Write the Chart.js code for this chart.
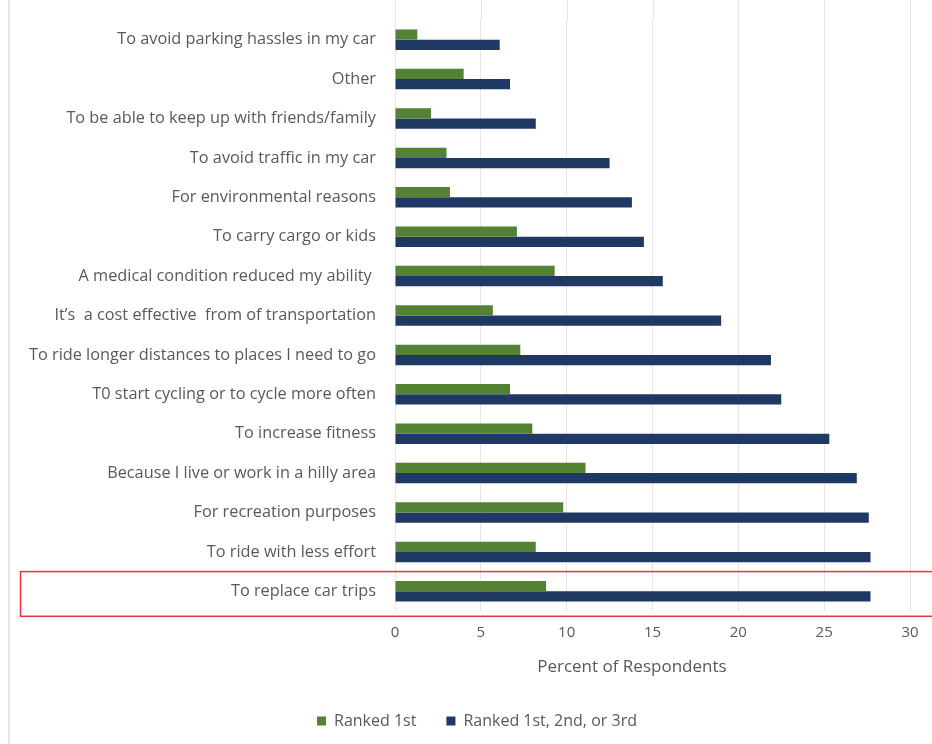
<!DOCTYPE html>
<html>
<head>
<meta charset="utf-8">
<script src="https://cdn.jsdelivr.net/npm/chart.js@4/dist/chart.umd.min.js"></script>
<style>
html,body{margin:0;padding:0;background:#fff;}
#wrap{width:932px;height:744px;position:relative;}
</style>
</head>
<body>
<div id="wrap"><canvas id="c" width="932" height="744"></canvas></div>
<script>
const categories = [
  "To avoid parking hassles in my car",
  "Other",
  "To be able to keep up with friends/family",
  "To avoid traffic in my car",
  "For environmental reasons",
  "To carry cargo or kids",
  "A medical condition reduced my ability ",
  "It\u2019s  a cost effective  from of transportation",
  "To ride longer distances to places I need to go",
  "T0 start cycling or to cycle more often",
  "To increase fitness",
  "Because I live or work in a hilly area",
  "For recreation purposes",
  "To ride with less effort",
  "To replace car trips"
];
const ranked1st = [1.3, 4.0, 2.1, 3.0, 3.2, 7.1, 9.3, 5.7, 7.3, 6.7, 8.0, 11.1, 9.8, 8.2, 8.8];
const ranked123 = [6.1, 6.7, 8.2, 12.5, 13.8, 14.5, 15.6, 19.0, 21.9, 22.5, 25.3, 26.9, 27.6, 27.7, 27.7];
const xTicks = [0, 5, 10, 15, 20, 25, 30];
const seriesNames = ["Ranked 1st", "Ranked 1st, 2nd, or 3rd"];
const xTitle = "Percent of Respondents";
const highlighted = "To replace car trips";

const FONT = "'Open Sans', Lato, sans-serif";
const TXT = "#595959";

const decor = {
  id: 'decor',
  afterLayout(chart) {
    if (chart.legend) { chart.legend.left += 22; chart.legend.right += 22; }
  },
  beforeDatasetsDraw(chart) {
    const ctx = chart.ctx, x = chart.scales.x, a = chart.chartArea;
    ctx.save();
    ctx.strokeStyle = '#e6e6e6';
    ctx.lineWidth = 1;
    xTicks.forEach(v => {
      const px = Math.round(x.getPixelForValue(v)) + 0.5;
      ctx.beginPath(); ctx.moveTo(px, 0); ctx.lineTo(px, a.top); ctx.stroke();
    });
    ctx.restore();
  },
  afterDraw(chart) {
    const ctx = chart.ctx, y = chart.scales.y, x = chart.scales.x, a = chart.chartArea;
    ctx.save();
    ctx.fillStyle = TXT;
    ctx.font = "17px " + FONT;
    ctx.textAlign = 'center';
    ctx.textBaseline = 'middle';
    ctx.fillText(xTitle, x.getPixelForValue(13.8), a.bottom + 56);
    ctx.strokeStyle = '#e6e6e6';
    ctx.lineWidth = 2;
    ctx.beginPath(); ctx.moveTo(9, 0); ctx.lineTo(9, chart.height); ctx.stroke();
    const idx = categories.indexOf(highlighted);
    const band = (y.getPixelForValue(1) - y.getPixelForValue(0));
    const cy = y.getPixelForValue(idx);
    ctx.strokeStyle = '#e8343a';
    ctx.lineWidth = 1.5;
    ctx.strokeRect(20.5, cy - band / 2, 940, band / 2 + 25);
    ctx.restore();
  }
};

new Chart(document.getElementById('c'), {
  type: 'bar',
  data: {
    labels: categories,
    datasets: [
      { label: seriesNames[0], data: ranked1st, backgroundColor: '#548235', borderWidth: 0 },
      { label: seriesNames[1], data: ranked123, backgroundColor: '#203864', borderWidth: 0 }
    ]
  },
  options: {
    indexAxis: 'y',
    responsive: false,
    animation: false,
    devicePixelRatio: 1,
    categoryPercentage: 0.52,
    barPercentage: 1.0,
    layout: { padding: { top: 20, right: 22, left: 0, bottom: 5 } },
    scales: {
      x: {
        min: 0, max: 30,
        afterBuildTicks(s) { s.ticks = xTicks.map(v => ({ value: v })); },
        afterFit(s) { s.height += 28; },
        grid: { color: '#e6e6e6', drawTicks: false },
        border: { display: false },
        ticks: { color: TXT, font: { family: FONT, size: 15 }, padding: 13 },
        title: { display: false }
      },
      y: {
        grid: { display: false, drawTicks: false },
        border: { display: false },
        afterFit(s) { s.width = 395; s.paddingTop = 0; s.paddingBottom = 0; },
        ticks: { color: TXT, font: { family: FONT, size: 16.3 }, padding: 19, autoSkip: false }
      }
    },
    plugins: {
      legend: {
        position: 'bottom',
        labels: { color: TXT, font: { family: FONT, size: 16 }, boxWidth: 9, boxHeight: 9, padding: 30 }
      },
      tooltip: { enabled: false }
    }
  },
  plugins: [decor]
});
</script>
</body>
</html>
